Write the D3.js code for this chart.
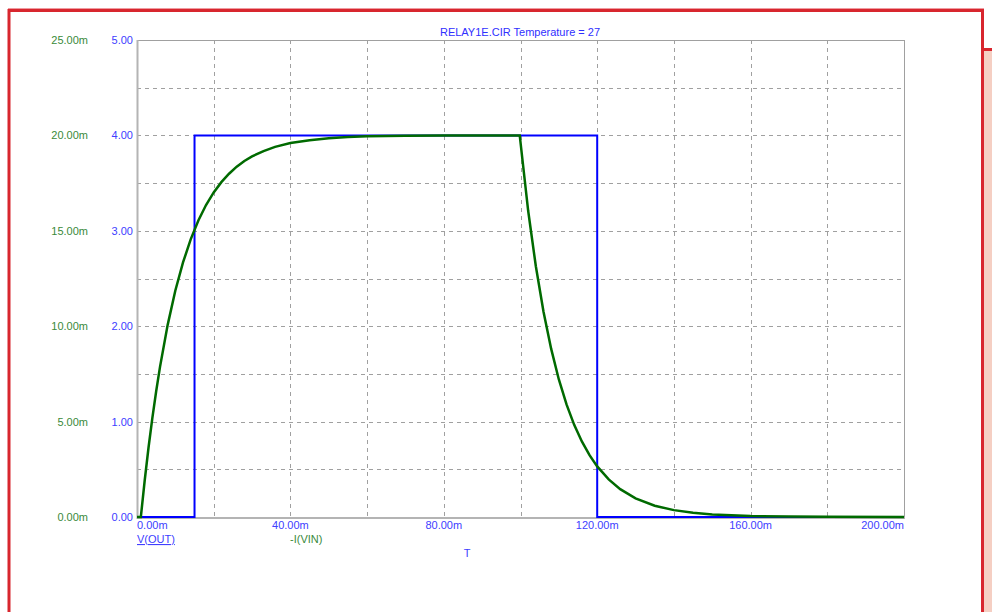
<!DOCTYPE html>
<html>
<head>
<meta charset="utf-8">
<script src="https://cdn.jsdelivr.net/npm/d3@7"></script>
<style>
  body { margin: 0; background: #fff; }
  svg text { font-family: "Liberation Sans", Arial, sans-serif; font-size: 11px; }
</style>
</head>
<body>
<div id="chart"></div>
<script>
  // time in ms, V(OUT) in volts, -I(VIN) in mA
  var xTicks = [0, 40, 80, 120, 160, 200];
  var voltTicks = [0, 1, 2, 3, 4, 5];
  var currentTicks = [0, 5, 10, 15, 20, 25];

  var voutT = [0, 15, 15, 120, 120, 200];
  var voutV = [0, 0, 4, 4, 0, 0];

  var iinT = [0, 1, 2, 3, 4, 5, 6, 8, 10, 12, 14, 16, 18, 20, 22, 24, 26, 28, 30, 33, 36, 40, 45, 50, 55, 60, 70, 80, 99.8,
    102, 104, 106, 108, 110, 112, 114, 116, 118, 120, 123, 126, 130, 135, 140, 145, 150, 160, 170, 180, 200];
  var iinMA = [0, 0, 1.90, 3.63, 5.18, 6.59, 7.87, 10.07, 11.87, 13.34, 14.55, 15.54, 16.35, 17.01, 17.55, 17.99, 18.36, 18.66, 18.90, 19.18, 19.40, 19.60, 19.75, 19.85, 19.91, 19.95, 19.98, 20.0, 20.0,
    16.05, 13.14, 10.76, 8.81, 7.21, 5.90, 4.83, 3.96, 3.24, 2.65, 1.97, 1.46, 0.98, 0.59, 0.36, 0.22, 0.13, 0.05, 0.02, 0.01, 0];

  var width = 992, height = 612;
  var plot = { left: 137, top: 40, right: 904, bottom: 517 };

  var svg = d3.select('#chart').append('svg')
    .attr('width', width)
    .attr('height', height);

  // window frame
  svg.append('rect')
    .attr('x', 984)
    .attr('y', 50)
    .attr('width', 8)
    .attr('height', height - 50)
    .attr('fill', '#f5cfc3');

  svg.append('path')
    .attr('d', 'M992,49.5H983.5')
    .attr('stroke', '#d8262e')
    .attr('stroke-width', 3)
    .attr('fill', 'none');

  svg.append('path')
    .attr('d', 'M9,' + height + 'V10.5H982.5V' + height)
    .attr('stroke', '#d8262e')
    .attr('stroke-width', 3)
    .attr('fill', 'none');

  svg.append('line')
    .attr('x1', 8).attr('x2', 984)
    .attr('y1', 8.5).attr('y2', 8.5)
    .attr('stroke', '#ef9aa0')
    .attr('stroke-width', 1);

  var x = d3.scaleLinear().domain([0, 200]).range([plot.left, plot.right]);
  var yV = d3.scaleLinear().domain([0, 5]).range([plot.bottom, plot.top]);
  var yI = d3.scaleLinear().domain([0, 25]).range([plot.bottom, plot.top]);

  var grid = svg.append('g')
    .attr('stroke', '#a0a0a0')
    .attr('stroke-width', 1)
    .attr('stroke-dasharray', '4,4');

  grid.selectAll('line.vgrid')
    .data(d3.range(20, 200, 20))
    .enter().append('line')
    .attr('class', 'vgrid')
    .attr('x1', function(d) { return Math.round(x(d)) + 0.5; })
    .attr('x2', function(d) { return Math.round(x(d)) + 0.5; })
    .attr('y1', plot.top)
    .attr('y2', plot.bottom);

  grid.selectAll('line.hgrid')
    .data(d3.range(0.5, 5, 0.5))
    .enter().append('line')
    .attr('class', 'hgrid')
    .attr('x1', plot.left)
    .attr('x2', plot.right)
    .attr('y1', function(d) { return Math.round(yV(d)) + 0.5; })
    .attr('y2', function(d) { return Math.round(yV(d)) + 0.5; });

  // frame
  svg.append('rect')
    .attr('x', plot.left + 0.5)
    .attr('y', plot.top + 0.5)
    .attr('width', plot.right - plot.left)
    .attr('height', plot.bottom - plot.top)
    .attr('fill', 'none')
    .attr('stroke', '#a0a0a0')
    .attr('stroke-width', 1);

  svg.append('path')
    .attr('d', 'M' + (plot.left + 0.5) + ',' + plot.top + 'V' + (plot.bottom + 1) + 'H' + (plot.right + 1))
    .attr('stroke', '#b4b4b4')
    .attr('stroke-width', 2)
    .attr('fill', 'none');

  // left axis labels
  svg.selectAll('text.ilabel')
    .data(currentTicks)
    .enter().append('text')
    .attr('class', 'ilabel')
    .attr('x', 88)
    .attr('y', function(d) { return yI(d) + 4; })
    .attr('text-anchor', 'end')
    .attr('fill', '#3a8a3a')
    .text(function(d) { return d3.format('.2f')(d) + 'm'; });

  svg.selectAll('text.vlabel')
    .data(voltTicks)
    .enter().append('text')
    .attr('class', 'vlabel')
    .attr('x', 133)
    .attr('y', function(d) { return yV(d) + 4; })
    .attr('text-anchor', 'end')
    .attr('fill', '#4040ff')
    .text(function(d) { return d3.format('.2f')(d); });

  svg.selectAll('text.xlabel')
    .data(xTicks)
    .enter().append('text')
    .attr('class', 'xlabel')
    .attr('x', function(d) { return x(d); })
    .attr('y', 529)
    .attr('text-anchor', function(d, i) { return i === 0 ? 'start' : (i === xTicks.length - 1 ? 'end' : 'middle'); })
    .attr('fill', '#4040ff')
    .text(function(d) { return d3.format('.2f')(d) + 'm'; });

  svg.append('text')
    .attr('x', 520)
    .attr('y', 36)
    .attr('text-anchor', 'middle')
    .attr('fill', '#3030ff')
    .text('RELAY1E.CIR Temperature = 27');

  svg.append('text')
    .attr('x', 137)
    .attr('y', 543)
    .attr('fill', '#4040ff')
    .attr('text-decoration', 'underline')
    .text('V(OUT)');

  svg.append('text')
    .attr('x', 290)
    .attr('y', 543)
    .attr('fill', '#3a8a3a')
    .text('-I(VIN)');

  svg.append('text')
    .attr('x', 467)
    .attr('y', 557)
    .attr('text-anchor', 'middle')
    .attr('fill', '#4040ff')
    .text('T');

  // traces
  var voutLine = d3.line()
    .x(function(d, i) { return x(voutT[i]); })
    .y(function(d) { return yV(d); });

  var iinLine = d3.line()
    .x(function(d, i) { return x(iinT[i]); })
    .y(function(d) { return yI(d); });

  svg.append('path')
    .attr('d', voutLine(voutV))
    .attr('fill', 'none')
    .attr('stroke', '#0000ff')
    .attr('stroke-width', 2);

  svg.append('path')
    .attr('d', iinLine(iinMA))
    .attr('fill', 'none')
    .attr('stroke', '#006a00')
    .attr('stroke-width', 2.5);
</script>
</body>
</html>
